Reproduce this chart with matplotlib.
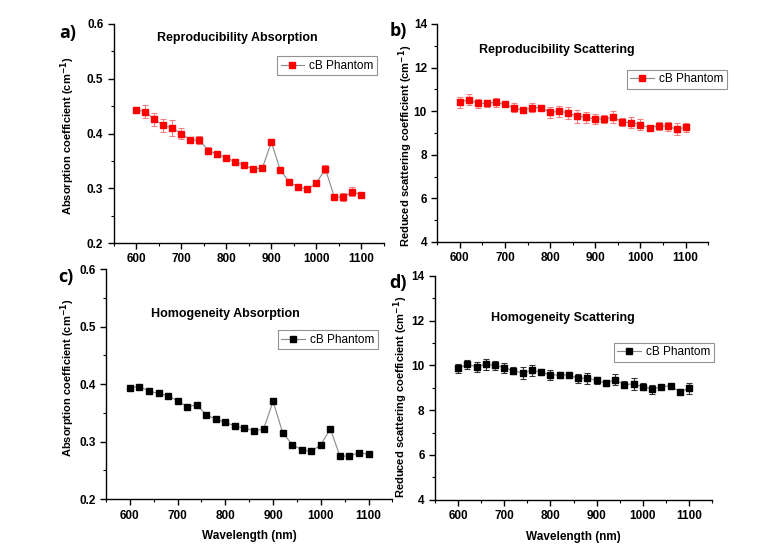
import numpy as np
import matplotlib.pyplot as plt
from matplotlib.ticker import MultipleLocator

plt.rcParams['font.family'] = ['Liberation Sans', 'DejaVu Sans']

# ----- date -----
wavelength = list(range(600, 1101, 20))

abs_rep = [0.443, 0.440, 0.426, 0.415, 0.410, 0.400, 0.388, 0.388, 0.369, 0.362,
           0.356, 0.348, 0.342, 0.335, 0.337, 0.384, 0.333, 0.311, 0.303, 0.298,
           0.310, 0.335, 0.284, 0.284, 0.294, 0.288]
abs_rep_err = [0.006, 0.012, 0.012, 0.012, 0.015, 0.010, 0.006, 0.007, 0.006, 0.005,
               0.004, 0.005, 0.003, 0.003, 0.003, 0.003, 0.003, 0.003, 0.003, 0.004,
               0.003, 0.007, 0.004, 0.007, 0.008, 0.004]

sca_rep = [10.41, 10.53, 10.36, 10.36, 10.41, 10.31, 10.16, 10.04, 10.16, 10.16,
           9.95, 9.99, 9.93, 9.76, 9.72, 9.64, 9.64, 9.73, 9.50, 9.47,
           9.38, 9.24, 9.32, 9.31, 9.17, 9.26]
sca_rep_err = [0.25, 0.25, 0.20, 0.15, 0.20, 0.10, 0.20, 0.12, 0.20, 0.12,
               0.25, 0.25, 0.28, 0.28, 0.25, 0.22, 0.20, 0.28, 0.20, 0.25,
               0.25, 0.10, 0.20, 0.20, 0.28, 0.20]

abs_hom = [0.394, 0.396, 0.388, 0.384, 0.380, 0.371, 0.361, 0.364, 0.347, 0.339,
           0.334, 0.327, 0.324, 0.319, 0.322, 0.370, 0.316, 0.295, 0.286, 0.283,
           0.295, 0.322, 0.275, 0.275, 0.281, 0.278]

sca_hom = [9.87, 10.04, 9.94, 10.04, 10.00, 9.90, 9.76, 9.66, 9.78, 9.70,
           9.57, 9.57, 9.57, 9.42, 9.43, 9.33, 9.21, 9.36, 9.14, 9.17,
           9.05, 8.94, 9.05, 9.09, 8.82, 8.97]
sca_hom_err = [0.20, 0.22, 0.22, 0.25, 0.20, 0.22, 0.15, 0.25, 0.25, 0.12,
               0.22, 0.15, 0.12, 0.20, 0.25, 0.15, 0.15, 0.25, 0.15, 0.25,
               0.15, 0.20, 0.05, 0.05, 0.12, 0.25]

abs_label = 'Absorption coefficient (cm$^{\\mathbf{-1}}$)'
sca_label = 'Reduced scattering coefficient (cm$^{\\mathbf{-1}}$)'

fig = plt.figure(figsize=(7.74, 5.45), dpi=100)


def setup(ax, ylim, ymaj, ylabel, label_y, xlabel=None):
    ax.set_xlim(550, 1150)
    ax.set_ylim(*ylim)
    ax.xaxis.set_major_locator(MultipleLocator(100))
    ax.xaxis.set_minor_locator(MultipleLocator(50))
    ax.yaxis.set_major_locator(MultipleLocator(ymaj))
    ax.yaxis.set_minor_locator(MultipleLocator(ymaj / 2))
    ax.set_xticks([600, 700, 800, 900, 1000, 1100])
    for s in ['top', 'right']:
        ax.spines[s].set_visible(False)
    for s in ['left', 'bottom']:
        ax.spines[s].set_linewidth(1.0)
    ax.tick_params(which='major', direction='out', length=4, width=1, labelsize=8.5)
    ax.tick_params(which='minor', direction='out', length=2, width=0.8)
    for lab in ax.get_xticklabels() + ax.get_yticklabels():
        lab.set_fontweight('bold')
    ax.set_ylabel(ylabel, fontsize=8, fontweight='bold')
    ax.yaxis.set_label_coords(label_y[0], label_y[1])
    if xlabel:
        ax.set_xlabel(xlabel, fontsize=8.5, fontweight='bold', labelpad=6)


def draw(ax, y, err, color, ecolor, leg_xy):
    if err is not None:
        ax.errorbar(wavelength, y, yerr=err, fmt='none', ecolor=ecolor,
                    elinewidth=0.8, capsize=2, capthick=0.8)
    ax.plot(wavelength, y, color='#8a8a8a', lw=0.8, marker='s', ms=5,
            mfc=color, mec=color, label='cB Phantom')
    leg = ax.legend(loc='upper left', bbox_to_anchor=leg_xy,
                    bbox_transform=fig.transFigure, fontsize=8.5,
                    frameon=True, fancybox=False, handlelength=2.0,
                    borderpad=0.3, handletextpad=0.4, borderaxespad=0)
    leg.get_frame().set_edgecolor('#777777')
    leg.get_frame().set_linewidth(0.8)


# a)
ax1 = fig.add_axes([0.147, 0.554, 0.349, 0.402])
draw(ax1, abs_rep, abs_rep_err, 'red', '#f08080', (0.358, 0.897))
setup(ax1, (0.2, 0.6), 0.1, abs_label, (-0.137, 0.49))
ax1.text(0.306, 0.930, 'Reproducibility Absorption', transform=fig.transFigure,
         ha='center', va='center', fontsize=9, fontweight='bold')

# b)
ax2 = fig.add_axes([0.565, 0.556, 0.350, 0.400])
draw(ax2, sca_rep, sca_rep_err, 'red', '#f08080', (0.810, 0.872))
setup(ax2, (4, 14), 2, sca_label, (-0.083, 0.44))
ax2.text(0.720, 0.908, 'Reproducibility Scattering', transform=fig.transFigure,
         ha='center', va='center', fontsize=9, fontweight='bold')

# c)
ax3 = fig.add_axes([0.137, 0.084, 0.370, 0.422])
draw(ax3, abs_hom, None, 'black', 'black', (0.359, 0.394))
setup(ax3, (0.2, 0.6), 0.1, abs_label, (-0.10, 0.53), 'Wavelength (nm)')
ax3.text(0.291, 0.424, 'Homogeneity Absorption', transform=fig.transFigure,
         ha='center', va='center', fontsize=9, fontweight='bold')

# d)
ax4 = fig.add_axes([0.562, 0.083, 0.358, 0.411])
draw(ax4, sca_hom, sca_hom_err, 'black', '#333333', (0.793, 0.371))
setup(ax4, (4, 14), 2, sca_label, (-0.09, 0.46), 'Wavelength (nm)')
ax4.text(0.727, 0.416, 'Homogeneity Scattering', transform=fig.transFigure,
         ha='center', va='center', fontsize=9, fontweight='bold')

# etichete panouri
for lbl, x, y in [('a)', 0.088, 0.940), ('b)', 0.514, 0.943),
                  ('c)', 0.085, 0.492), ('d)', 0.514, 0.481)]:
    fig.text(x, y, lbl, ha='center', va='center', fontsize=13,
             fontweight='bold', family=['Open Sans', 'DejaVu Sans'])

fig.savefig('out.png', dpi=100)
